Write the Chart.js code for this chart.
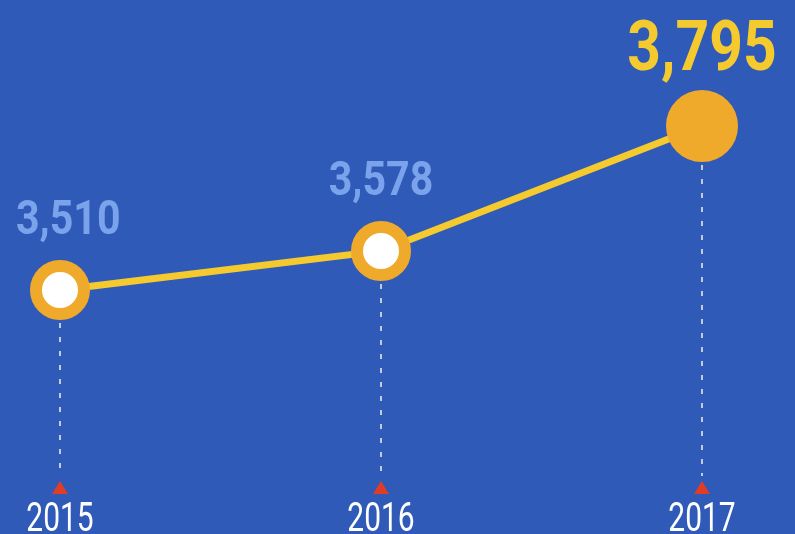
<!DOCTYPE html>
<html>
<head>
<meta charset="utf-8">
<script src="https://cdn.jsdelivr.net/npm/chart.js@4"></script>
<style>
  html, body { margin: 0; padding: 0; background: #2f5ab8; }
  #wrap { width: 795px; height: 534px; position: relative; }
</style>
</head>
<body>
<div id="wrap"><canvas id="trendChart"></canvas></div>
<script>
const years = ['2015', '2016', '2017'];
const values = [3510, 3578, 3795];

const BLUE_LABEL = '#7aa3ec';
const YELLOW = '#f5ca2e';
const ORANGE = '#efaa2c';

// dashed drop lines + red markers under each point
const guides = {
    id: 'guides',
    beforeDatasetsDraw(chart) {
        const { ctx, chartArea } = chart;
        const pts = chart.getDatasetMeta(0).data;
        ctx.save();
        pts.forEach(pt => {
            const r = pt.options.radius + pt.options.borderWidth / 2;
            ctx.strokeStyle = '#c3cbe0';
            ctx.lineWidth = 2;
            ctx.setLineDash([5, 9]);
            ctx.beginPath();
            ctx.moveTo(pt.x, pt.y + r + 3);
            ctx.lineTo(pt.x, chartArea.bottom - 4);
            ctx.stroke();
            ctx.setLineDash([]);
            ctx.fillStyle = '#df3d26';
            ctx.beginPath();
            ctx.moveTo(pt.x, chartArea.bottom + 1);
            ctx.lineTo(pt.x + 8, chartArea.bottom + 14);
            ctx.lineTo(pt.x - 8, chartArea.bottom + 14);
            ctx.closePath();
            ctx.fill();
        });
        ctx.restore();
    }
};

// value labels above points and year labels along the bottom
const labels = {
    id: 'labels',
    afterDatasetsDraw(chart) {
        const { ctx, chartArea } = chart;
        const pts = chart.getDatasetMeta(0).data;
        const xScale = chart.scales.x;
        ctx.save();
        ctx.textAlign = 'center';
        ctx.textBaseline = 'alphabetic';
        pts.forEach((pt, i) => {
            const last = i === values.length - 1;
            const sx = 0.84;
            ctx.font = 'bold ' + (last ? 70 : 49) + 'px Roboto, "Liberation Sans", sans-serif';
            ctx.fillStyle = last ? YELLOW : BLUE_LABEL;
            const text = values[i].toLocaleString('en-US');
            const w = ctx.measureText(text).width * sx;
            const cx = Math.min(Math.max(pt.x, 16 + w / 2), chart.width - 16 - w / 2);
            ctx.save();
            ctx.translate(cx, pt.y - 56);
            ctx.scale(sx, 1);
            ctx.fillText(text, 0, 0);
            ctx.restore();
        });
        ctx.fillStyle = '#ffffff';
        ctx.font = '41px Roboto, "Liberation Sans", sans-serif';
        years.forEach((y, i) => {
            ctx.save();
            ctx.translate(xScale.getPixelForTick(i), chartArea.bottom + 51);
            ctx.scale(0.73, 1);
            ctx.fillText(y, 0, 0);
            ctx.restore();
        });
        ctx.restore();
    }
};

const ctx = document.getElementById('trendChart').getContext('2d');
new Chart(ctx, {
    type: 'line',
    data: {
        labels: years,
        datasets: [{
            data: values,
            borderColor: YELLOW,
            borderWidth: 7,
            tension: 0,
            clip: false,
            pointRadius: [24, 24, 30],
            pointHoverRadius: [24, 24, 30],
            pointBorderWidth: 12,
            pointBorderColor: ORANGE,
            pointBackgroundColor: ['#ffffff', '#ffffff', ORANGE]
        }]
    },
    options: {
        responsive: true,
        maintainAspectRatio: false,
        animation: false,
        events: [],
        layout: { autoPadding: false, padding: { left: 60, right: 93, top: 0, bottom: 54 } },
        plugins: { legend: { display: false }, tooltip: { enabled: false } },
        scales: {
            x: { display: false, offset: false },
            y: { display: false, min: 3180, max: 4014 }
        }
    },
    plugins: [guides, labels]
});
</script>
</body>
</html>
